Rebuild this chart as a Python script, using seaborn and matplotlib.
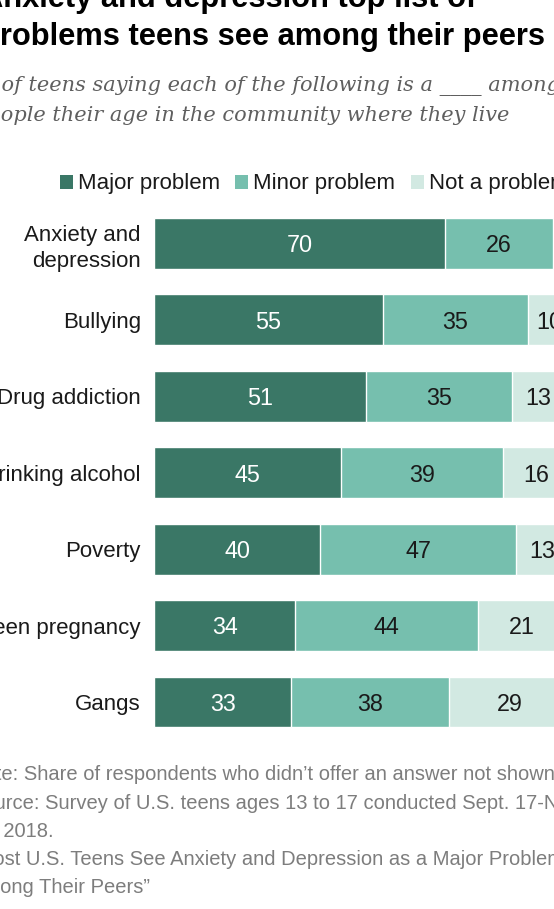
import matplotlib
matplotlib.use("Agg")
import matplotlib.pyplot as plt
import seaborn as sns
import pandas as pd
from matplotlib.patches import Rectangle

# ---- data ----
categories = ["Anxiety and\ndepression", "Bullying", "Drug addiction",
              "Drinking alcohol", "Poverty", "Teen pregnancy", "Gangs"]
major = [70, 55, 51, 45, 40, 34, 33]
minor = [26, 35, 35, 39, 47, 44, 38]
not_problem = [4, 10, 13, 16, 13, 21, 29]
series_names = ["Major problem", "Minor problem", "Not a problem"]
colors = ["#3a7766", "#76bfae", "#d2e9e2"]

title_lines = ["Anxiety and depression top list of",
               "problems teens see among their peers"]
subtitle_lines = ["% of teens saying each of the following is a ____ among",
                  "people their age in the community where they live"]
note_lines = ["Note: Share of respondents who didn\u2019t offer an answer not shown.",
              "Source: Survey of U.S. teens ages 13 to 17 conducted Sept. 17-Nov.",
              "25, 2018.",
              "\u201cMost U.S. Teens See Anxiety and Depression as a Major Problem",
              "Among Their Peers\u201d"]

W, H = 554, 909
sns.set_theme(style="white")
plt.rcParams["font.family"] = ["Liberation Sans", "DejaVu Sans"]

fig = plt.figure(figsize=(W / 100, H / 100), dpi=100)
fig.patch.set_facecolor("white")


def fx(px):
    return px / W


def fy(py):
    return 1 - py / H


ax = fig.add_axes([fx(154), fy(740.2), (569.7 - 154) / W, (740.2 - 205.3) / H])

df = pd.DataFrame({"category": categories, "major": major,
                   "minor": minor, "not": not_problem})
df["c1"] = df["major"]
df["c2"] = df["major"] + df["minor"]
df["c3"] = df["c2"] + df["not"]

for col, color in zip(["c3", "c2", "c1"], colors[::-1]):
    sns.barplot(data=df, x=col, y="category", color=color, orient="h",
                width=0.667, ax=ax, saturation=1, errorbar=None)

# value labels
for i, row in df.iterrows():
    segs = [(0, row["major"], "white"),
            (row["c1"], row["minor"], "#1a1a1a"),
            (row["c2"], row["not"], "#1a1a1a")]
    for start, val, tc in segs:
        ax.text(start + val / 2, i + 0.03, f"{val}", ha="center", va="center",
                fontsize=16.8, color=tc)

ax.set_xlim(0, 100)
ax.set_ylim(6.5, -0.5)
ax.set_xlabel("")
ax.set_ylabel("")
ax.set_xticks([])
for s in ax.spines.values():
    s.set_visible(False)
ax.tick_params(axis="y", length=0, pad=9.4, labelsize=16, labelcolor="#1a1a1a")
for lab in ax.get_yticklabels():
    lab.set_linespacing(1.3)

# title
for txt, base in zip(title_lines, [7, 45]):
    fig.text(fx(-19), fy(base), txt, fontsize=22.2, fontweight="bold",
             color="black", va="baseline", ha="left")

# subtitle
for txt, base in zip(subtitle_lines, [91, 121]):
    fig.text(fx(-25), fy(base), txt, fontsize=15.0, style="italic",
             family=["DejaVu Serif"], color="#5f5f5f", va="baseline", ha="left")

# legend
leg_sq = [60, 235, 411]
leg_tx = [78, 253, 429]
for sx, tx, name, c in zip(leg_sq, leg_tx, series_names, colors):
    fig.patches.append(Rectangle((fx(sx), fy(188.5)), 13 / W, 13 / H,
                                 transform=fig.transFigure, facecolor=c,
                                 edgecolor="none"))
    fig.text(fx(tx), fy(189), name, fontsize=16, color="#1a1a1a",
             va="baseline", ha="left")

# notes
for txt, base in zip(note_lines, [780, 809, 836.5, 865, 893]):
    fig.text(fx(-30), fy(base), txt, fontsize=14.5, color="#7d7d7d",
             va="baseline", ha="left")

fig.savefig("out.png", dpi=100, facecolor="white")
